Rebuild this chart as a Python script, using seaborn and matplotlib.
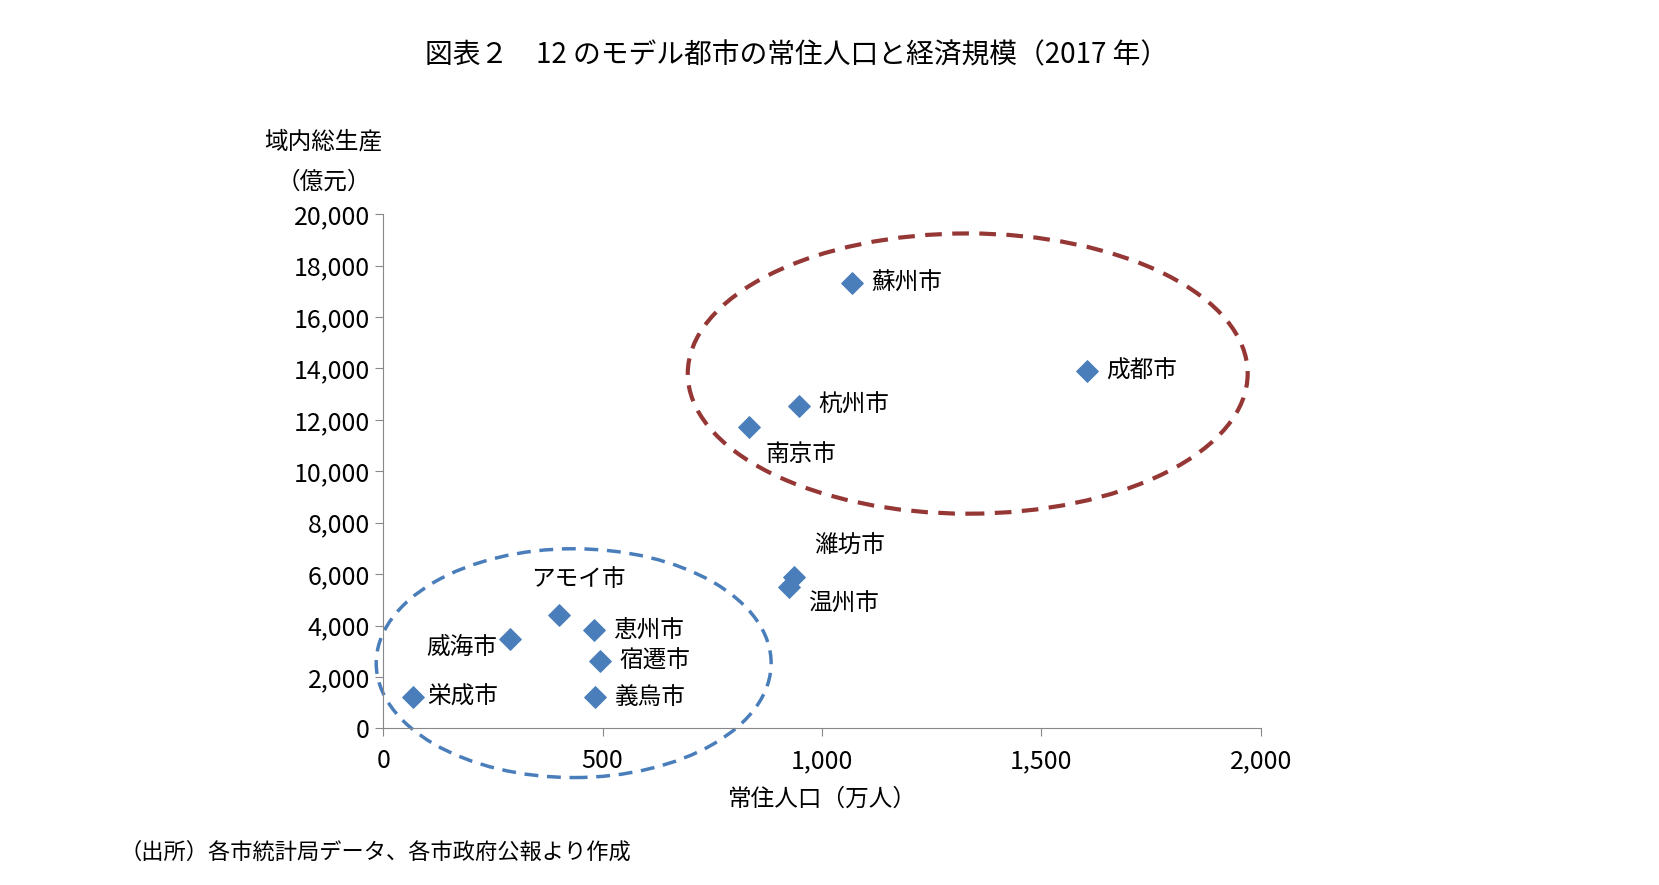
import matplotlib
matplotlib.use("Agg")
import matplotlib.pyplot as plt
import seaborn as sns
import pandas as pd
from matplotlib.patches import Ellipse

cities = ["蘇州市", "成都市", "杭州市", "南京市", "濰坊市", "温州市",
          "アモイ市", "恵州市", "威海市", "宿遷市", "栄成市", "義烏市"]
population = [1068, 1604, 947, 834, 937, 924, 400, 480, 288, 495, 68, 483]
gdp = [17320, 13890, 12556, 11715, 5900, 5490, 4400, 3830, 3490, 2620, 1210, 1210]
# label offsets in points
offsets = [(14, 0), (14, 0), (14, 0), (12, -20), (14, 22), (14, -12),
           (-20, 26), (14, 0), (-60, -6), (14, 0), (10, 0), (14, 0)]

plt.rcParams["font.family"] = "Noto Sans CJK JP"
df = pd.DataFrame({"pop": population, "gdp": gdp, "city": cities})

fig = plt.figure(figsize=(16.59, 8.85), dpi=100)
ax = fig.add_axes([0.231, 0.177, 0.529, 0.581])
sns.scatterplot(data=df, x="pop", y="gdp", marker="D", s=120, color="#4a7ebb",
                edgecolor="#4a7ebb", ax=ax, zorder=3)
for c, x, y, off in zip(cities, population, gdp, offsets):
    ax.annotate(c, (x, y), xytext=off, textcoords="offset points", fontsize=17,
                va="center", ha="left")

ax.add_patch(Ellipse((1332, 13800), 1276, 10900, fill=False, ec="#953735",
                     lw=3, ls=(0, (4, 2.5))))
ax.add_patch(Ellipse((434, 2536), 900, 8900, fill=False, ec="#4a7ebb",
                     lw=2.5, ls=(0, (4, 2.5)), clip_on=False))

ax.set_xlim(0, 2000)
ax.set_ylim(0, 20000)
ax.set_xticks(range(0, 2001, 500))
ax.set_yticks(range(0, 20001, 2000))
ax.xaxis.set_major_formatter(matplotlib.ticker.StrMethodFormatter("{x:,.0f}"))
ax.yaxis.set_major_formatter(matplotlib.ticker.StrMethodFormatter("{x:,.0f}"))
ax.tick_params(labelsize=18, color="#888888", length=6)
ax.tick_params(axis="x", direction="out", pad=8)
for s in ["top", "right"]:
    ax.spines[s].set_visible(False)
for s in ["left", "bottom"]:
    ax.spines[s].set_color("#888888")
ax.set_xlabel("常住人口（万人）", fontsize=17, labelpad=10)
ax.set_ylabel("")
fig.text(0.195, 0.832, "域内総生産", fontsize=17, ha="center")
fig.text(0.195, 0.787, "（億元）", fontsize=17, ha="center")
fig.text(0.48, 0.928, "図表２　12 のモデル都市の常住人口と経済規模（2017 年）", fontsize=20, ha="center")
fig.text(0.072, 0.03, "（出所）各市統計局データ、各市政府公報より作成", fontsize=16)
fig.savefig("out.png", dpi=100)
